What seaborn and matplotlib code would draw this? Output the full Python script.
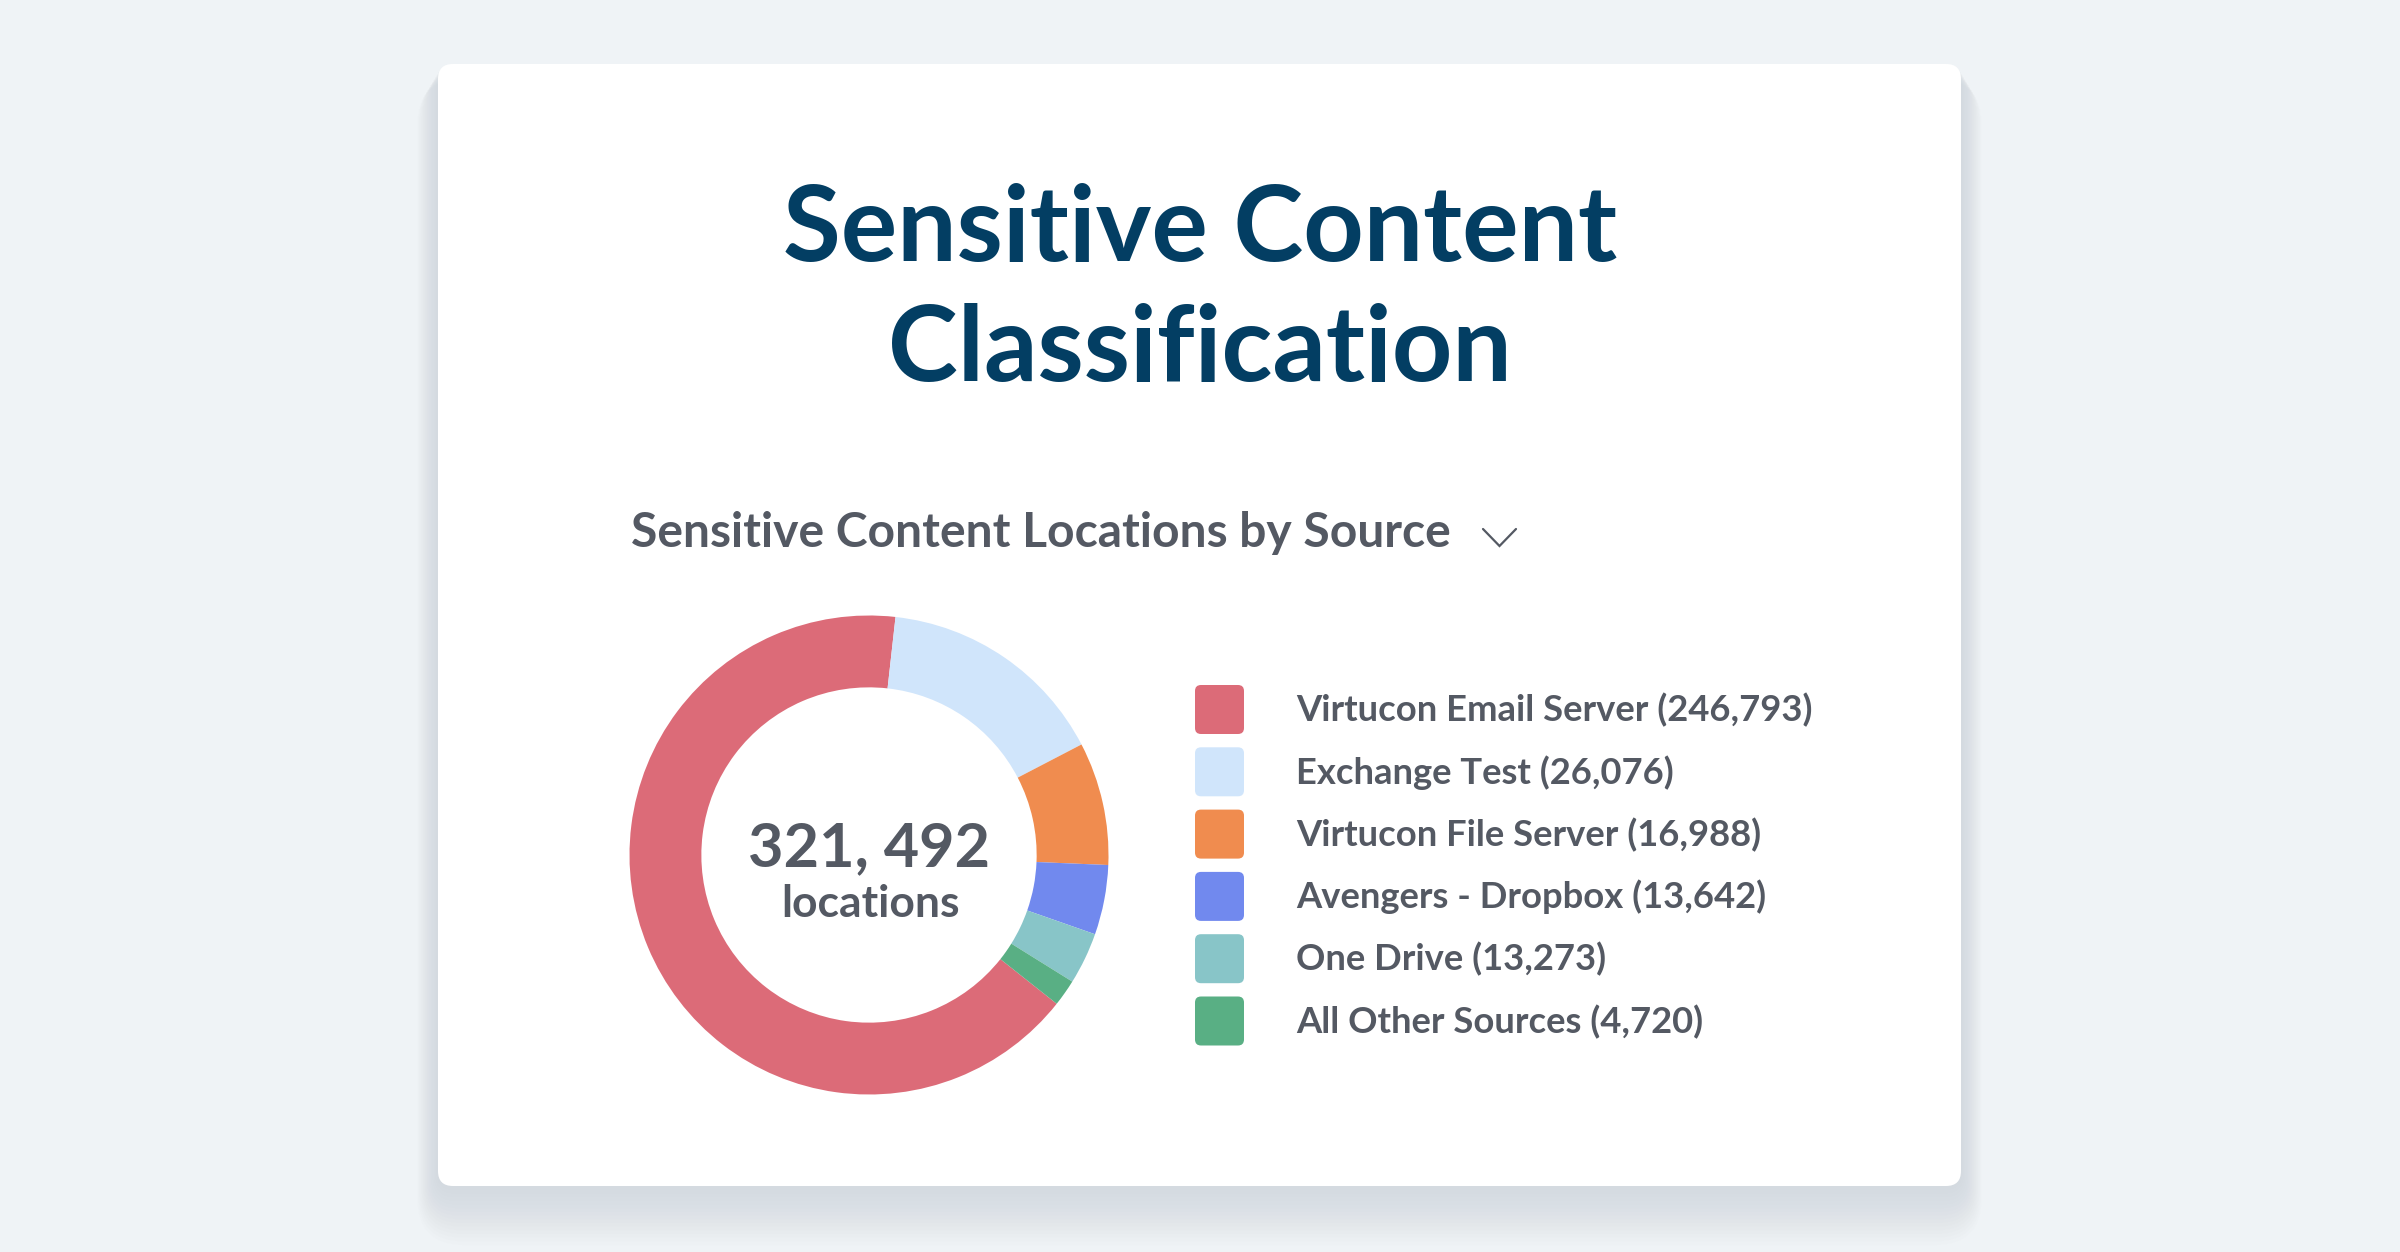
import matplotlib
matplotlib.use("Agg")
import matplotlib.pyplot as plt
from matplotlib.patches import FancyBboxPatch
import seaborn as sns

# ---------------- data ----------------
sources = ["Virtucon Email Server", "Exchange Test", "Virtucon File Server",
           "Avengers - Dropbox", "One Drive", "All Other Sources"]
locations = [246793, 26076, 16988, 13642, 13273, 4720]
# arc sizes as drawn in the reference donut (percent of the ring)
arc_share_pct = [66.1, 15.6, 8.3, 4.7, 3.5, 1.8]
colors = ["#dc6b78", "#d0e5fb", "#f08c4f", "#7189ee", "#88c5c8", "#59af84"]
title_lines = ["Sensitive Content", "Classification"]
subtitle = "Sensitive Content Locations by Source"
center_caption = "locations"

# ---------------- style ----------------
sns.set_theme(style="white")
plt.rcParams["font.family"] = ["Lato", "DejaVu Sans"]
palette = sns.color_palette(colors)

W, H, DPI = 2400, 1252, 200
fig = plt.figure(figsize=(W / DPI, H / DPI), dpi=DPI)
fig.patch.set_facecolor("#eff3f6")

bg = fig.add_axes([0, 0, 1, 1])
bg.set_xlim(0, W)
bg.set_ylim(H, 0)
bg.axis("off")
bg.patch.set_alpha(0)

# card shadow
cx0, cy0, cx1, cy1 = 438, 64, 1961, 1186
for k in range(16, 0, -1):
    sh = FancyBboxPatch((cx0 - k * 1.3, cy0 + k * 0.9), (cx1 - cx0) + k * 2.6,
                        (cy1 - cy0) + k * 2.8,
                        boxstyle=f"round,pad=0,rounding_size={15 + k * 2}",
                        linewidth=0, facecolor="#9aa3ab", alpha=0.016, zorder=1)
    bg.add_patch(sh)
card = FancyBboxPatch((cx0, cy0), cx1 - cx0, cy1 - cy0,
                      boxstyle="round,pad=0,rounding_size=15",
                      linewidth=0, facecolor="white", zorder=2)
bg.add_patch(card)

navy = "#033e63"
gray = "#545963"

# title
for i, line in enumerate(title_lines):
    bg.text(1200, 261 + i * 120, line, ha="center", va="baseline",
            fontsize=38, fontweight="bold", color=navy, zorder=5)

# subtitle + chevron
bg.text(631, 547, subtitle, ha="left", va="baseline", fontsize=17.3,
        fontweight="bold", color=gray, zorder=5)
bg.plot([1483, 1499.5, 1516], [529, 546, 529], color=gray, lw=0.8,
        solid_joinstyle="miter", zorder=5)

# ---------------- donut ----------------
ccx, ccy, R = 869, 855, 239.5
ax = fig.add_axes([(ccx - R) / W, (H - ccy - R) / H, 2 * R / W, 2 * R / H])
ax.pie(arc_share_pct, colors=palette, startangle=-38.4, counterclock=False,
       radius=1.0, wedgeprops=dict(width=0.30, linewidth=0))
ax.set_xlim(-1, 1)
ax.set_ylim(-1, 1)
ax.set_aspect("equal")
ax.axis("off")
ax.patch.set_alpha(0)

total = sum(locations)
bg.text(ccx, 866, f"{total:,}".replace(",", ", "), ha="center", va="baseline",
        fontsize=22, fontweight="bold", color=gray, zorder=5)
bg.text(ccx + 1, 917, center_caption, ha="center", va="baseline",
        fontsize=16, fontweight="bold", color=gray, zorder=5)

# ---------------- legend ----------------
sq_x, sq_top, sq_size, row_gap = 1195, 685, 49, 62.3
for i, (name, val) in enumerate(zip(sources, locations)):
    top = sq_top + i * row_gap
    sq = FancyBboxPatch((sq_x, top), sq_size, sq_size,
                        boxstyle="round,pad=0,rounding_size=6",
                        linewidth=0, facecolor=palette[i], zorder=5)
    bg.add_patch(sq)
    bg.text(1296, top + sq_size / 2 + 12, f"{name} ({val:,})",
            ha="left", va="baseline", fontsize=13.1, fontweight="bold",
            color=gray, zorder=5)

fig.savefig("out.png", dpi=DPI, facecolor=fig.get_facecolor())
